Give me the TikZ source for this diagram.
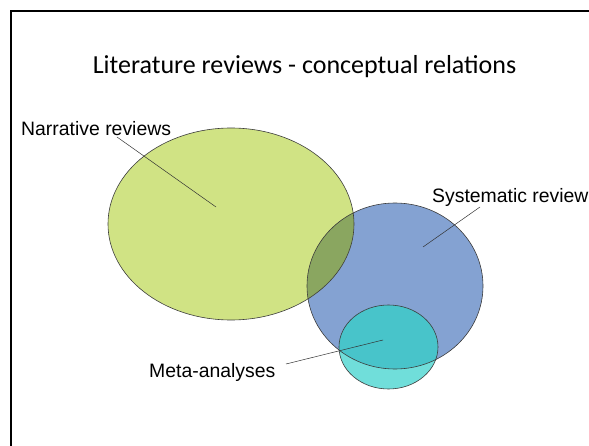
\documentclass[tikz,border=0pt]{standalone}
\usepackage{fontspec}
\setmainfont{Liberation Sans}
\newfontfamily\titlefont{Carlito}
\usepackage{xcolor}
\usepackage{tikz}
\usetikzlibrary{positioning}

\definecolor{narrgreen}{RGB}{208,227,132}
\definecolor{sysblue}{RGB}{132,162,210}
\definecolor{overlapgreen}{RGB}{138,166,96}
\definecolor{metacyan}{RGB}{72,196,202}
\definecolor{metalight}{RGB}{112,222,218}
\definecolor{rimgray}{RGB}{60,60,60}

\begin{document}
\begin{tikzpicture}[x=1pt, y=-1pt,
    label/.style={anchor=base west, inner sep=0pt, font=\fontsize{19.4}{22}\selectfont},
    rim/.style={draw=rimgray, line width=0.6pt},
    leader/.style={draw=black!80, line width=0.5pt}]
    \useasboundingbox (0,0) rectangle (589,446);
    \clip (0,0) rectangle (589,446);

    % slide frame
    \draw[line width=2.4pt] (10.7,11.2) rectangle (620,480);

    \node[anchor=base, inner sep=0pt, font=\titlefont\fontsize{26}{31}\selectfont] (title) at (304.5,74) {Literature reviews - conceptual relations};

    % Systematic review
    \fill[sysblue] (395,286) ellipse [x radius=88pt, y radius=83pt];
    % Narrative reviews
    \fill[narrgreen] (231,224) ellipse [x radius=123pt, y radius=96pt];
    \begin{scope}
        \clip (395,286) ellipse [x radius=88pt, y radius=83pt];
        \fill[overlapgreen] (231,224) ellipse [x radius=123pt, y radius=96pt];
    \end{scope}
    % Meta-analyses
    \fill[metalight] (388.5,347) ellipse [x radius=49.5pt, y radius=42pt];
    \begin{scope}
        \clip (395,286) ellipse [x radius=88pt, y radius=83pt];
        \fill[metacyan] (388.5,347) ellipse [x radius=49.5pt, y radius=42pt];
    \end{scope}

    % outlines on top
    \path[rim] (395,286) ellipse [x radius=88pt, y radius=83pt];
    \path[rim] (231,224) ellipse [x radius=123pt, y radius=96pt];
    \path[rim] (388.5,347) ellipse [x radius=49.5pt, y radius=42pt];

    % labels and leader lines
    \node[label] (narr) at (21,136) {Narrative reviews};
    \node[label] (sys) at (432,203) {Systematic review};
    \node[label] (meta) at (149,377) {Meta-analyses};

    \coordinate (narr-from) at (117,137);
    \coordinate (narr-to) at (216,207);
    \coordinate (sys-from) at (480,207);
    \coordinate (sys-to) at (423,247);
    \coordinate (meta-from) at (286,364);
    \coordinate (meta-to) at (383,340);

    \draw[leader] (narr-from) -- (narr-to);
    \draw[leader] (sys-from) -- (sys-to);
    \draw[leader] (meta-from) -- (meta-to);
\end{tikzpicture}
\end{document}
